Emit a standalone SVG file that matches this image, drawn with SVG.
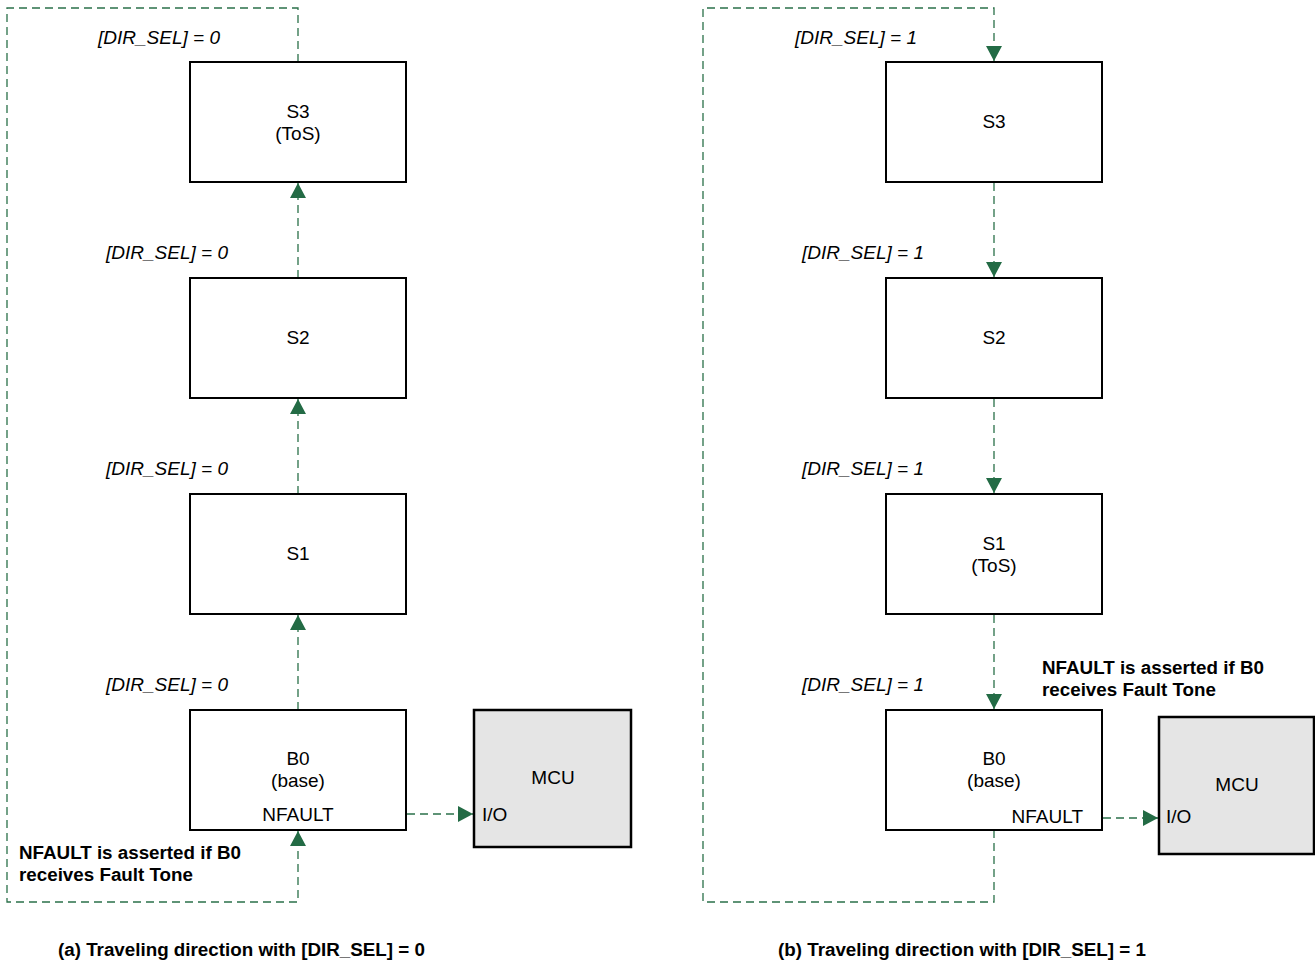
<svg xmlns="http://www.w3.org/2000/svg" width="1315" height="962" viewBox="0 0 1315 962">
<style>
.box{fill:#fff;stroke:#000;stroke-width:2}
.mcu{fill:#e5e5e5;stroke:#000;stroke-width:2.5}
.t{font-family:"Liberation Sans",Arial,sans-serif;font-size:19px;fill:#000;text-anchor:middle}
.lab{font-family:"Liberation Sans",Arial,sans-serif;font-size:19px;font-style:italic;fill:#000}
.b{font-family:"Liberation Sans",Arial,sans-serif;font-size:18.8px;font-weight:bold;fill:#000}
.c{fill:none;stroke:#2a7049;stroke-width:1.3;stroke-dasharray:8 5}
</style>
<defs>
<marker id="ah" markerWidth="16" markerHeight="16" viewBox="0 0 15 16" refX="15" refY="8" orient="auto" markerUnits="userSpaceOnUse">
<path d="M0,0 L15,8 L0,16 Z" fill="#236b45"/>
</marker>
</defs>
<g id="connectors">
<path class="c" d="M298,62 V8 H7 V902 H298 V831" marker-end="url(#ah)"/>
<path class="c" d="M298,278 V183" marker-end="url(#ah)"/>
<path class="c" d="M298,494 V399" marker-end="url(#ah)"/>
<path class="c" d="M298,710 V615" marker-end="url(#ah)"/>
<path class="c" d="M407,814 H473" marker-end="url(#ah)"/>
<path class="c" d="M994,830 V902 H703 V8 H994 V61" marker-end="url(#ah)"/>
<path class="c" d="M994,183 V277" marker-end="url(#ah)"/>
<path class="c" d="M994,399 V493" marker-end="url(#ah)"/>
<path class="c" d="M994,615 V709" marker-end="url(#ah)"/>
<path class="c" d="M1103,818 H1158" marker-end="url(#ah)"/>
</g>
<g id="a-S3"><rect class="box" x="190" y="62" width="216" height="120"/><text class="t" x="298" y="118">S3</text><text class="t" x="298" y="140">(ToS)</text></g>
<g id="a-S2"><rect class="box" x="190" y="278" width="216" height="120"/><text class="t" x="298" y="344">S2</text></g>
<g id="a-S1"><rect class="box" x="190" y="494" width="216" height="120"/><text class="t" x="298" y="560">S1</text></g>
<g id="a-B0"><rect class="box" x="190" y="710" width="216" height="120"/><text class="t" x="298" y="765">B0</text><text class="t" x="298" y="787">(base)</text><text class="t" x="298" y="821">NFAULT</text></g>
<g id="a-MCU"><rect class="mcu" x="474" y="710" width="157" height="137"/><text class="t" x="553" y="784">MCU</text><text class="t" x="482" y="821" style="text-anchor:start">I/O</text></g>
<g id="a-labels">
<text class="lab" x="98" y="44">[DIR_SEL] = 0</text>
<text class="lab" x="106" y="259">[DIR_SEL] = 0</text>
<text class="lab" x="106" y="475">[DIR_SEL] = 0</text>
<text class="lab" x="106" y="691">[DIR_SEL] = 0</text>
<text class="b" x="19" y="859">NFAULT is asserted if B0</text>
<text class="b" x="19" y="881">receives Fault Tone</text>
<text class="b" x="58" y="956">(a) Traveling direction with [DIR_SEL] = 0</text>
</g>
<g id="b-S3"><rect class="box" x="886" y="62" width="216" height="120"/><text class="t" x="994" y="128">S3</text></g>
<g id="b-S2"><rect class="box" x="886" y="278" width="216" height="120"/><text class="t" x="994" y="344">S2</text></g>
<g id="b-S1"><rect class="box" x="886" y="494" width="216" height="120"/><text class="t" x="994" y="550">S1</text><text class="t" x="994" y="572">(ToS)</text></g>
<g id="b-B0"><rect class="box" x="886" y="710" width="216" height="120"/><text class="t" x="994" y="765">B0</text><text class="t" x="994" y="787">(base)</text><text class="t" x="1083" y="823" style="text-anchor:end">NFAULT</text></g>
<g id="b-MCU"><rect class="mcu" x="1159" y="717" width="155" height="137"/><text class="t" x="1237" y="791">MCU</text><text class="t" x="1166" y="823" style="text-anchor:start">I/O</text></g>
<g id="b-labels">
<text class="lab" x="795" y="44">[DIR_SEL] = 1</text>
<text class="lab" x="802" y="259">[DIR_SEL] = 1</text>
<text class="lab" x="802" y="475">[DIR_SEL] = 1</text>
<text class="lab" x="802" y="691">[DIR_SEL] = 1</text>
<text class="b" x="1042" y="674">NFAULT is asserted if B0</text>
<text class="b" x="1042" y="696">receives Fault Tone</text>
<text class="b" x="778" y="956">(b) Traveling direction with [DIR_SEL] = 1</text>
</g>
</svg>
